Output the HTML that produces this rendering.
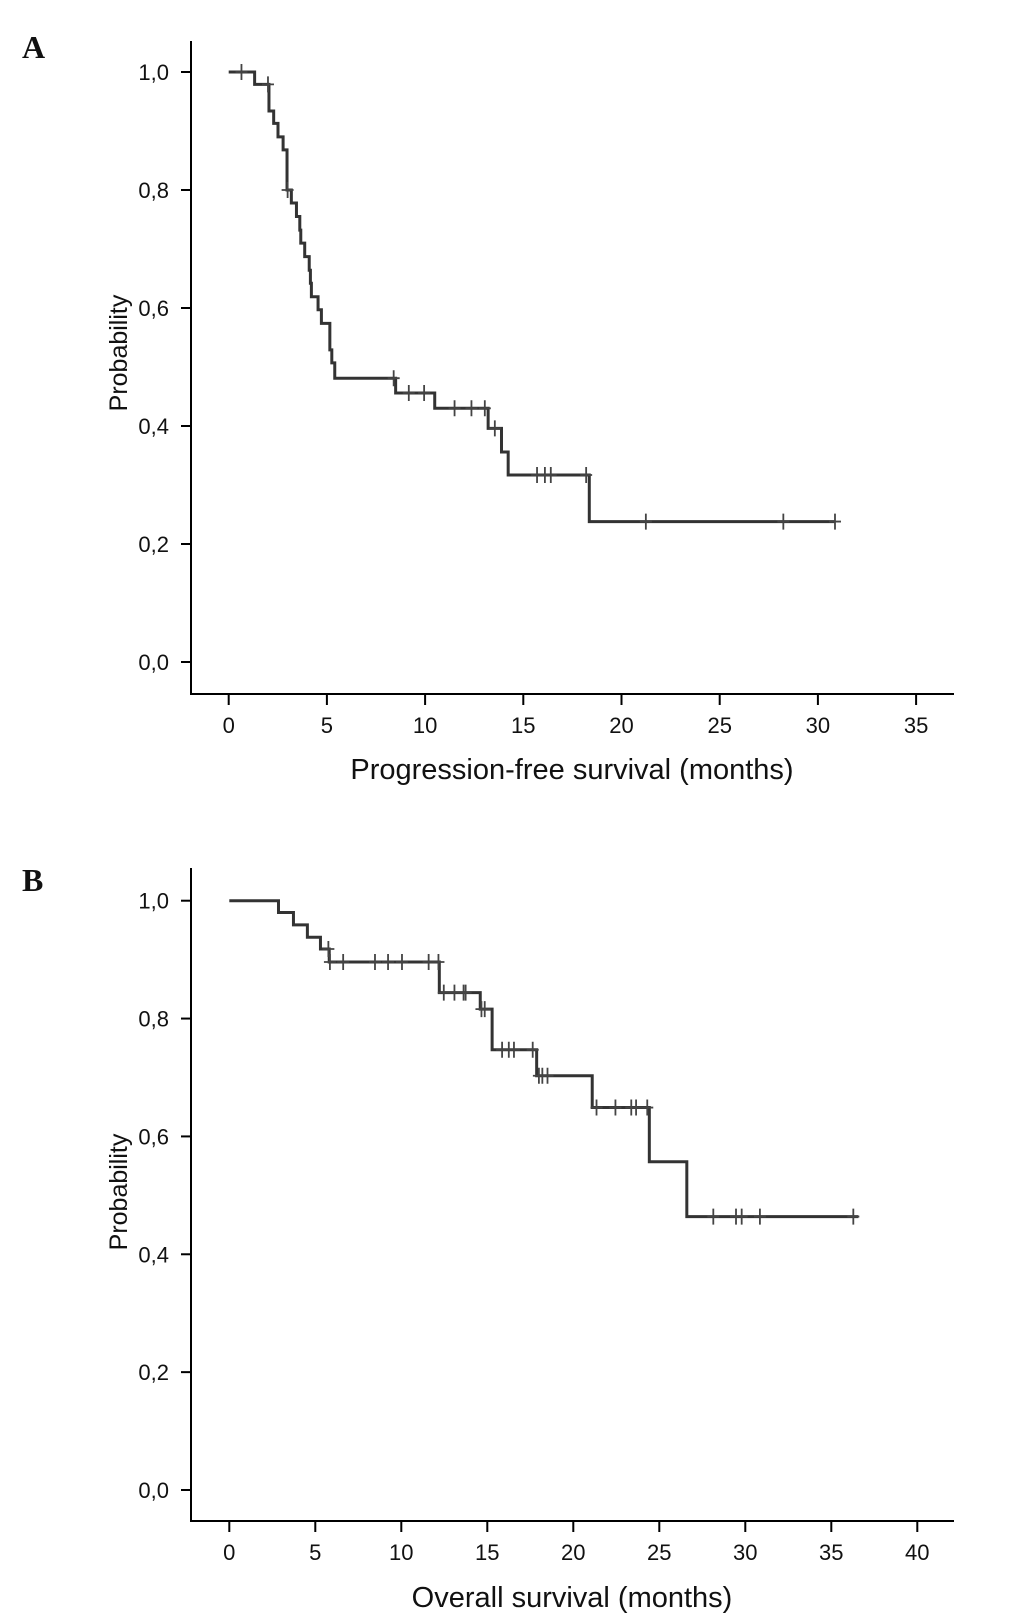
<!DOCTYPE html>
<html><head><meta charset="utf-8"><style>
html,body{margin:0;padding:0;background:#fff;}
svg{display:block;}
text{font-family:"Liberation Sans",sans-serif;fill:#111;}
text.letter{font-family:"Liberation Serif",serif;font-weight:bold;}
</style></head><body>
<svg id="chart" width="1033" height="1624" viewBox="0 0 1033 1624" xmlns="http://www.w3.org/2000/svg"></svg>
<script>
// Panel A: progression-free survival
const pfsTimes = [0, 1.32, 2.05, 2.29, 2.51, 2.77, 2.97, 3.19, 3.45, 3.62, 3.67, 3.87, 4.10, 4.16, 4.21, 4.55, 4.72, 5.15, 5.25, 5.40, 8.5, 10.49, 13.21, 13.89, 14.23, 18.36];
const pfsSurv  = [1.0, 0.979, 0.934, 0.913, 0.890, 0.868, 0.800, 0.778, 0.755, 0.732, 0.710, 0.687, 0.664, 0.642, 0.619, 0.597, 0.574, 0.529, 0.507, 0.481, 0.456, 0.430, 0.396, 0.356, 0.317, 0.238];
const pfsEnd = 30.87;
const pfsCensor = [0.65, 2.0, 3.0, 8.4, 9.17, 9.95, 11.5, 12.36, 13.04, 13.55, 15.7, 16.1, 16.4, 18.2, 21.24, 28.24, 30.87];
const pfsXTicks = [0, 5, 10, 15, 20, 25, 30, 35];
// Panel B: overall survival
const osTimes = [0, 2.86, 3.73, 4.54, 5.30, 5.81, 12.21, 14.59, 15.28, 17.87, 21.1, 24.42, 26.6];
const osSurv  = [1.0, 0.980, 0.959, 0.938, 0.918, 0.896, 0.844, 0.816, 0.747, 0.703, 0.649, 0.557, 0.464];
const osEnd = 36.57;
const osCensor = [5.76, 5.85, 6.62, 8.47, 9.23, 10.04, 11.59, 12.16, 12.47, 13.09, 13.62, 13.74, 14.66, 14.85, 15.86, 16.25, 16.55, 17.64, 18.0, 18.2, 18.5, 21.35, 22.45, 23.37, 23.65, 24.3, 28.14, 29.46, 29.79, 30.85, 36.28];
const osXTicks = [0, 5, 10, 15, 20, 25, 30, 35, 40];
const yTicks = [0, 0.2, 0.4, 0.6, 0.8, 1.0];
const yTickLabels = ["0,0", "0,2", "0,4", "0,6", "0,8", "1,0"];

const NS = "http://www.w3.org/2000/svg";
const svg = document.getElementById("chart");
function el(tag, attrs, parent) {
  const e = document.createElementNS(NS, tag);
  for (const k in attrs) e.setAttribute(k, attrs[k]);
  (parent || svg).appendChild(e);
  return e;
}

function panel(cfg) {
  const g = el("g", {});
  
  
  const xs = t => cfg.x0 + t * cfg.xPer;
  const ys = s => cfg.y0 - s * cfg.yPer;
  const L = el("text", {x: cfg.letterX, y: cfg.letterY, "class": "letter", "font-size": "32"}, g);
  
  
  L.textContent = cfg.letter;
  const ax = el("path", {d: `M${cfg.axX} ${cfg.axTop} V${cfg.axBottom} H${cfg.axRight}`, stroke: "#000", "stroke-width": 2, fill: "none"}, g);
  
  
  yTicks.forEach((v, i) => {
    const y = ys(v);
    const tk = el("line", {x1: cfg.axX - 10, x2: cfg.axX, y1: y, y2: y, stroke: "#000", "stroke-width": 2}, g);
    
    
    const t = el("text", {x: cfg.axX - 22, y: y + 8, "text-anchor": "end", "font-size": "22"}, g);
    
    
    t.textContent = yTickLabels[i];
  });
  cfg.xTicks.forEach(v => {
    const x = xs(v);
    const tk = el("line", {x1: x, x2: x, y1: cfg.axBottom, y2: cfg.axBottom + 11, stroke: "#000", "stroke-width": 2}, g);
    
    
    const t = el("text", {x: x, y: cfg.axBottom + 39, "text-anchor": "middle", "font-size": "22"}, g);
    
    
    t.textContent = v;
  });
  const yt = el("text", {x: 0, y: 0, "text-anchor": "middle", "font-size": "25", transform: `translate(${cfg.yTitleX},${cfg.yTitleY}) rotate(-90)`}, g);
  
  
  yt.textContent = "Probability";
  const xt = el("text", {x: cfg.xTitleX, y: cfg.xTitleY, "text-anchor": "middle", "font-size": "29"}, g);
  
  
  xt.textContent = cfg.xTitle;
  let d = `M${xs(cfg.times[0])} ${ys(cfg.surv[0])}`;
  for (let i = 1; i < cfg.times.length; i++) {
    d += ` H${xs(cfg.times[i])} V${ys(cfg.surv[i])}`;
  }
  d += ` H${xs(cfg.end)}`;
  const c = el("path", {d: d, stroke: "#333", "stroke-width": 3, fill: "none", "stroke-linejoin": "miter"}, g);
  
  
  cfg.censor.forEach(t => {
    let s = cfg.surv[0];
    for (let i = 0; i < cfg.times.length; i++) if (cfg.times[i] <= t) s = cfg.surv[i];
    const x = xs(t), y = ys(s);
    const m = el("path", {d: `M${x} ${y - 8} V${y + 8} M${x - 6} ${y} H${x + 6}`, stroke: "#444", "stroke-width": 1.8, fill: "none"}, g);
    
    
  });
}

panel({name: "panel-a-pfs", letter: "A", letterX: 22, letterY: 58,
  x0: 228.7, xPer: 19.64, y0: 662, yPer: 590,
  axX: 191, axTop: 41, axBottom: 694, axRight: 954,
  xTicks: pfsXTicks, times: pfsTimes, surv: pfsSurv, end: pfsEnd, censor: pfsCensor,
  yTitleX: 127, yTitleY: 353, xTitleX: 572, xTitleY: 779, xTitle: "Progression-free survival (months)"});
panel({name: "panel-b-os", letter: "B", letterX: 22, letterY: 891,
  x0: 229.3, xPer: 17.2, y0: 1490, yPer: 589.3,
  axX: 191, axTop: 868, axBottom: 1521, axRight: 954,
  xTicks: osXTicks, times: osTimes, surv: osSurv, end: osEnd, censor: osCensor,
  yTitleX: 127, yTitleY: 1192, xTitleX: 572, xTitleY: 1607, xTitle: "Overall survival (months)"});
</script>
</body></html>
